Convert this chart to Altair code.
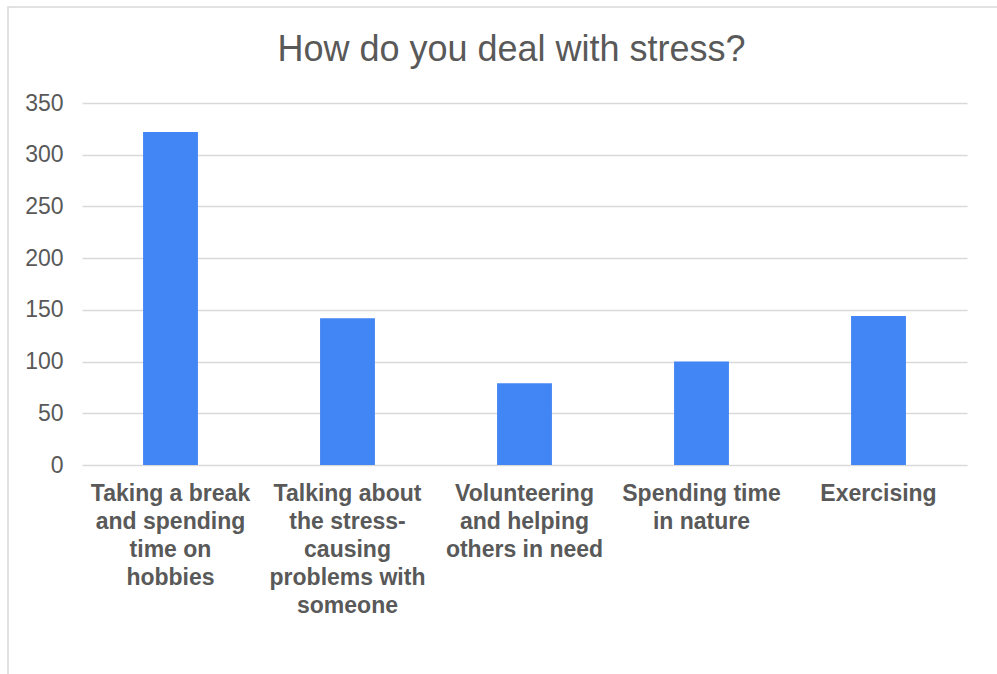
import json
import altair as alt
import pandas as pd

categories = [
    "Taking a break and spending time on hobbies",
    "Talking about the stress-causing problems with someone",
    "Volunteering and helping others in need",
    "Spending time in nature",
    "Exercising",
]
counts = [322, 142, 79, 100, 144]
label_lines = [
    ["Taking a break", "and spending", "time on", "hobbies"],
    ["Talking about", "the stress-", "causing", "problems with", "someone"],
    ["Volunteering", "and helping", "others in need"],
    ["Spending time", "in nature"],
    ["Exercising"],
]
y_ticks = [0, 50, 100, 150, 200, 250, 300, 350]

df = pd.DataFrame({"method": categories, "count": counts})
label_expr = json.dumps(dict(zip(categories, label_lines))) + "[datum.value]"

W, H = 885, 362
FONT = "Liberation Sans"
TXT = "#595959"
GRID = "#d9d9d9"

bars = alt.Chart(df).mark_bar(color="#4285F4").encode(
    x=alt.X(
        "method:N",
        sort=None,
        title=None,
        scale=alt.Scale(paddingInner=0.69, paddingOuter=0.345),
        axis=alt.Axis(
            labelAngle=0,
            labelExpr=label_expr,
            labelFont=FONT,
            labelFontSize=23,
            labelFontWeight="bold",
            labelColor=TXT,
            labelLineHeight=28,
            labelPadding=17,
            labelLimit=0,
            labelOverlap=False,
            ticks=False,
            domain=False,
            grid=False,
        ),
    ),
    y=alt.Y(
        "count:Q",
        title=None,
        scale=alt.Scale(domain=[0, 350], nice=False),
        axis=alt.Axis(
            values=y_ticks,
            labelFont=FONT,
            labelFontSize=23,
            labelColor=TXT,
            labelPadding=19,
            ticks=False,
            domain=False,
            grid=True,
            gridColor=GRID,
            gridWidth=1.5,
        ),
    ),
)

frame = alt.Chart(pd.DataFrame({"f": [0]})).mark_rect(
    fill="transparent", stroke=GRID, strokeWidth=1.5
).encode(
    x=alt.value(-74),
    x2=alt.value(W + 60),
    y=alt.value(-96),
    y2=alt.value(H + 300),
)

chart = alt.layer(frame, bars).properties(
    width=W,
    height=H,
    autosize="none",
    background="white",
    padding={"left": 82, "top": 103, "right": 30, "bottom": 209},
    title=alt.TitleParams(
        "How do you deal with stress?",
        font=FONT,
        fontSize=36,
        fontWeight="normal",
        color=TXT,
        anchor="middle",
        dx=-13,
        dy=63,
        offset=0,
    ),
).configure_view(strokeWidth=0, stroke="transparent")

chart.save("out.html", embed_options={"renderer": "svg", "actions": False})
